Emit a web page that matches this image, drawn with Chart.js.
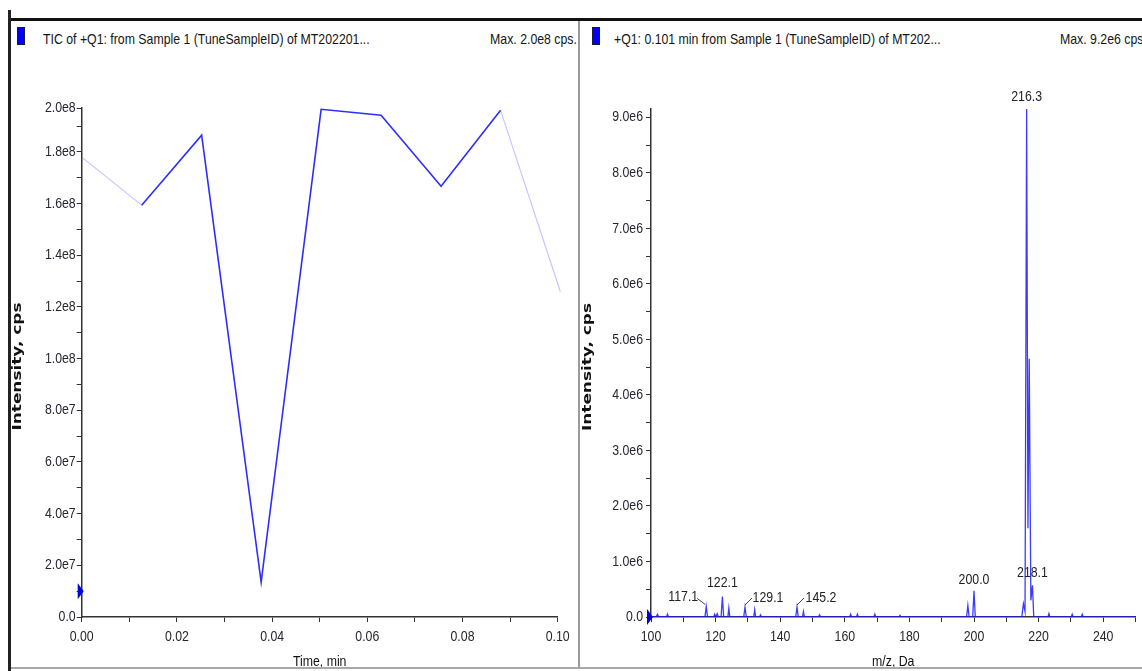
<!DOCTYPE html>
<html>
<head>
<meta charset="utf-8">
<script src="https://cdn.jsdelivr.net/npm/chart.js@4.4.1/dist/chart.umd.min.js"></script>
<style>
    body { margin: 0; background: #fff; width: 1142px; height: 671px; overflow: hidden; position: relative;
           font-family: "Liberation Sans", Arial, sans-serif; }
    .frame-top { position: absolute; left: 8px; top: 18px; width: 1134px; height: 3px; background: #111; }
    .frame-left { position: absolute; left: 8px; top: 10px; width: 3px; height: 661px; background: #222; }
    .divider { position: absolute; left: 578px; top: 21px; width: 2px; height: 647px; background: #9a9a9a; z-index: 2; }
    .frame-bottom { position: absolute; left: 11px; top: 667px; width: 1131px; height: 2px; background: #a8a8a8; z-index: 2; }
    .under { position: absolute; left: 11px; top: 669px; width: 1131px; height: 2px; background: #fff; z-index: 2; }
    .sq { position: absolute; top: 27px; width: 6px; height: 16px; background: #0000ff; border: 1px solid #1a1a40; }
    .hdr { position: absolute; top: 30px; font-size: 15px; line-height: 18px; color: #151515; white-space: nowrap;
           transform: scaleX(0.82); transform-origin: left center; }
    .hdr.r { transform-origin: right center; }
    .panel { position: absolute; top: 21px; }
</style>
</head>
<body>
<div class="frame-top"></div>
<div class="frame-left"></div>

<div class="sq" style="left:17px"></div>
<div class="hdr" style="left:43px">TIC of +Q1: from Sample 1 (TuneSampleID) of MT202201...</div>
<div class="hdr r" style="right:565px">Max. 2.0e8 cps.</div>

<div class="sq" style="left:592px"></div>
<div class="hdr" style="left:614px">+Q1: 0.101 min from Sample 1 (TuneSampleID) of MT202...</div>
<div class="hdr" style="left:1060px">Max. 9.2e6 cps.</div>

<div class="panel" style="left:10px"><canvas id="ticChart" width="568" height="650"></canvas></div>
<div class="panel" style="left:580px"><canvas id="specChart" width="562" height="650"></canvas></div>

<div class="divider"></div>
<div class="frame-bottom"></div>
<div class="under"></div>

<script>
// TIC trace (left)
const ticTimes = [0, 0.0126, 0.0252, 0.0377, 0.0503, 0.0629, 0.0755, 0.0880, 0.1006];
const ticIntensity = [1.78e8, 1.594e8, 1.865e8, 1.35e7, 1.965e8, 1.942e8, 1.667e8, 1.961e8, 1.257e8];
const ticTimeTicks = [0, 0.01, 0.02, 0.03, 0.04, 0.05, 0.06, 0.07, 0.08, 0.09, 0.10];
const ticTimeLabels = ['0.00', '', '0.02', '', '0.04', '', '0.06', '', '0.08', '', '0.10'];
const ticYTicks = [0, 1e7, 2e7, 3e7, 4e7, 5e7, 6e7, 7e7, 8e7, 9e7, 1e8, 1.1e8, 1.2e8, 1.3e8, 1.4e8,
                   1.5e8, 1.6e8, 1.7e8, 1.8e8, 1.9e8, 1.97e8];
const ticYLabels = ['0.0', '', '2.0e7', '', '4.0e7', '', '6.0e7', '', '8.0e7', '', '1.0e8', '', '1.2e8', '',
                    '1.4e8', '', '1.6e8', '', '1.8e8', '', '2.0e8'];
const ticMarker = [1.0e7];

// mass spectrum at 0.101 min (right)
const specMz = [100.0,
    101.6, 102.0, 102.4, 104.8, 105.1, 105.4,
    116.7, 117.1, 117.5, 119.4, 119.7, 120.0, 120.5, 120.9,
    121.7, 122.1, 122.5, 123.8, 124.1, 124.4,
    128.7, 129.1, 129.5, 131.8, 132.1, 132.4, 133.6, 133.9, 134.2,
    144.8, 145.2, 145.6, 146.9, 147.2, 147.5, 151.9, 152.2, 152.5,
    161.5, 161.8, 162.1, 163.6, 163.9, 164.2, 169.0, 169.3, 169.6, 176.8, 177.1, 177.4,
    197.7, 198.1, 198.5, 199.6, 200.0, 200.4,
    214.8, 215.3, 215.8, 216.3, 216.7, 217.1, 217.6, 218.1, 218.5,
    222.9, 223.2, 223.5, 230.1, 230.4, 230.7, 233.2, 233.5, 233.8,
    250.0];
const specIntensity = [0,
    0, 5e4, 0, 0, 5e4, 0,
    0, 1.9e5, 0, 0, 5e4, 0, 6e4, 0,
    0, 3.7e5, 0, 0, 1.6e5, 0,
    0, 1.8e5, 0, 0, 1.3e5, 0, 0, 4e4, 0,
    0, 1.8e5, 0, 0, 1.0e5, 0, 0, 4e4, 0,
    0, 5e4, 0, 0, 5e4, 0, 0, 5e4, 0, 0, 3e4, 0,
    0, 2.1e5, 0, 0, 4.7e5, 0,
    0, 2.4e5, 1.0e5, 9.15e6, 1.6e6, 4.65e6, 3.0e5, 5.7e5, 0,
    0, 6e4, 0, 0, 5e4, 0, 0, 5e4, 0,
    0];
const specMzTicks = [100, 110, 120, 130, 140, 150, 160, 170, 180, 190, 200, 210, 220, 230, 240, 250];
const specMzLabels = ['100', '', '120', '', '140', '', '160', '', '180', '', '200', '', '220', '', '240', ''];
const specYTicks = [0, 5e5, 1e6, 1.5e6, 2e6, 2.5e6, 3e6, 3.5e6, 4e6, 4.5e6, 5e6, 5.5e6, 6e6, 6.5e6,
                    7e6, 7.5e6, 8e6, 8.5e6, 9e6];
const specYLabels = ['0.0', '', '1.0e6', '', '2.0e6', '', '3.0e6', '', '4.0e6', '', '5.0e6', '', '6.0e6', '',
                     '7.0e6', '', '8.0e6', '', '9.0e6'];
const specMarker = [0];
const peakLabels = ['117.1', '122.1', '129.1', '145.2', '200.0', '216.3', '218.1'];
const peakMz = [117.1, 122.1, 129.1, 145.2, 200.0, 216.3, 218.1];

// label placement relative to the peak top (px), leader = [x0, y0, x1, y1]
const peakLabelStyle = {
    '117.1': { dx: -23, dy: -10, leader: [-1, -2, -9, -8] },
    '122.1': { dx: 0, dy: -14 },
    '129.1': { dx: 23, dy: -9, leader: [0, -2, 7, -9] },
    '145.2': { dx: 24, dy: -9, leader: [0, -2, 7, -9] },
    '200.0': { dx: 0, dy: -11 },
    '216.3': { dx: 0, dy: -12 },
    '218.1': { dx: 0, dy: -12 }
};

const FONT = '"Liberation Sans", Arial, sans-serif';
const tickColor = '#262630';

// Arial Narrow look-alike: squeeze the text horizontally
function drawNarrow(ctx, txt, x, y, align, sx) {
    ctx.save();
    ctx.translate(x, y);
    ctx.scale(sx || 0.82, 1);
    ctx.textAlign = align;
    ctx.textBaseline = 'middle';
    ctx.fillText(txt, 0, 0);
    ctx.restore();
}

function fixedTicks(values) {
    return function (scale) { scale.ticks = values.map(v => ({ value: v })); };
}

function axisOptions(ticks, extra) {
    return Object.assign({
        type: 'linear',
        afterBuildTicks: fixedTicks(ticks),
        border: { display: true, color: '#333', width: 1.5 },
        grid: { drawOnChartArea: false, drawTicks: true, tickLength: 5, color: '#333' },
        ticks: { display: false, autoSkip: false, maxRotation: 0 }
    }, extra);
}

// tick labels and axis titles, placed at the scale's own positions
const narrowTicksPlugin = {
    id: 'narrowTicks',
    afterDraw(chart, args, opts) {
        const ctx = chart.ctx;
        ctx.save();
        ctx.font = '15px ' + FONT;
        ctx.fillStyle = tickColor;
        const xs = chart.scales.x, ys = chart.scales.y;
        xs.ticks.forEach((t, i) => {
            if (opts.x[i]) drawNarrow(ctx, opts.x[i], xs.getPixelForValue(t.value), xs.top + 20, 'center');
        });
        ys.ticks.forEach((t, i) => {
            if (opts.y[i]) drawNarrow(ctx, opts.y[i], ys.right - opts.yGap, ys.getPixelForValue(t.value), 'right');
        });
        ctx.fillStyle = '#111';
        drawNarrow(ctx, opts.xTitle, (xs.left + xs.right) / 2, xs.top + 45, 'center');

        // y title: bold, widely set, rotated
        ctx.font = 'bold 13px "DejaVu Sans", sans-serif';
        ctx.translate(ys.left + 8, (ys.top + ys.bottom) / 2 + 4);
        ctx.rotate(-Math.PI / 2);
        drawNarrow(ctx, opts.yTitle, 0, 0, 'center', 1.3);
        ctx.restore();
    }
};

// little blue triangle on the y axis
const markerPlugin = {
    id: 'marker',
    afterDatasetsDraw(chart, args, opts) {
        const ctx = chart.ctx;
        const x = chart.chartArea.left;
        opts.values.forEach(v => {
            const y = chart.scales.y.getPixelForValue(v);
            ctx.save();
            ctx.fillStyle = '#0000e0';
            ctx.beginPath();
            ctx.moveTo(x - 4, y - 8);
            ctx.lineTo(x + 2, y);
            ctx.lineTo(x - 4, y + 8);
            ctx.closePath();
            ctx.fill();
            ctx.restore();
        });
    }
};

const peakLabelPlugin = {
    id: 'peakLabels',
    afterDatasetsDraw(chart) {
        const ctx = chart.ctx;
        const xs = chart.scales.x, ys = chart.scales.y;
        ctx.save();
        ctx.font = '15px ' + FONT;
        ctx.fillStyle = '#222';
        ctx.strokeStyle = '#444';
        ctx.lineWidth = 1;
        peakLabels.forEach((txt, i) => {
            const k = specMz.indexOf(peakMz[i]);
            const px = xs.getPixelForValue(specMz[k]);
            const py = ys.getPixelForValue(specIntensity[k]);
            const st = peakLabelStyle[txt];
            drawNarrow(ctx, txt, px + st.dx, py + st.dy, 'center');
            if (st.leader) {
                ctx.beginPath();
                ctx.moveTo(px + st.leader[0], py + st.leader[1]);
                ctx.lineTo(px + st.leader[2], py + st.leader[3]);
                ctx.stroke();
            }
        });
        ctx.restore();
    }
};

new Chart(document.getElementById('ticChart'), {
    type: 'line',
    data: {
        datasets: [{
            data: ticTimes.map((t, i) => ({ x: t, y: ticIntensity[i] })),
            borderColor: '#2d2dff',
            borderWidth: 1.6,
            pointRadius: 0,
            tension: 0,
            clip: 3,
            segment: {
                borderColor: c => (c.p0DataIndex === 0 || c.p1DataIndex === ticTimes.length - 1)
                    ? 'rgba(120,120,255,0.45)' : '#2d2dff',
                borderWidth: c => (c.p0DataIndex === 0 || c.p1DataIndex === ticTimes.length - 1) ? 1.1 : 1.6
            }
        }]
    },
    options: {
        responsive: false,
        animation: false,
        events: [],
        layout: { padding: { top: 87, right: 20.3, left: 0, bottom: 0 } },
        plugins: {
            legend: { display: false }, tooltip: { enabled: false },
            marker: { values: ticMarker },
            narrowTicks: { x: ticTimeLabels, y: ticYLabels, yGap: 6, xTitle: 'Time, min', yTitle: 'Intensity, cps' }
        },
        scales: {
            x: axisOptions(ticTimeTicks, { min: 0, max: 0.1, afterFit: s => { s.height = 54; } }),
            y: axisOptions(ticYTicks, { min: 0, max: 1.97e8, afterFit: s => { s.width = 71.7; } })
        }
    },
    plugins: [markerPlugin, narrowTicksPlugin]
});

new Chart(document.getElementById('specChart'), {
    type: 'line',
    data: {
        datasets: [{
            data: specMz.map((m, i) => ({ x: m, y: specIntensity[i] })),
            borderColor: 'rgba(25,25,255,0.85)',
            borderWidth: 1.3,
            pointRadius: 0,
            tension: 0
        }]
    },
    options: {
        responsive: false,
        animation: false,
        events: [],
        layout: { padding: { top: 88, right: 6.5, left: 0, bottom: 0 } },
        plugins: {
            legend: { display: false }, tooltip: { enabled: false },
            marker: { values: specMarker },
            narrowTicks: { x: specMzLabels, y: specYLabels, yGap: 8, xTitle: 'm/z, Da', yTitle: 'Intensity, cps' }
        },
        scales: {
            x: axisOptions(specMzTicks, { min: 100, max: 250, afterFit: s => { s.height = 54; } }),
            y: axisOptions(specYTicks, { min: 0, max: 9.15e6, afterFit: s => { s.width = 71; } })
        }
    },
    plugins: [markerPlugin, narrowTicksPlugin, peakLabelPlugin]
});
</script>
</body>
</html>
